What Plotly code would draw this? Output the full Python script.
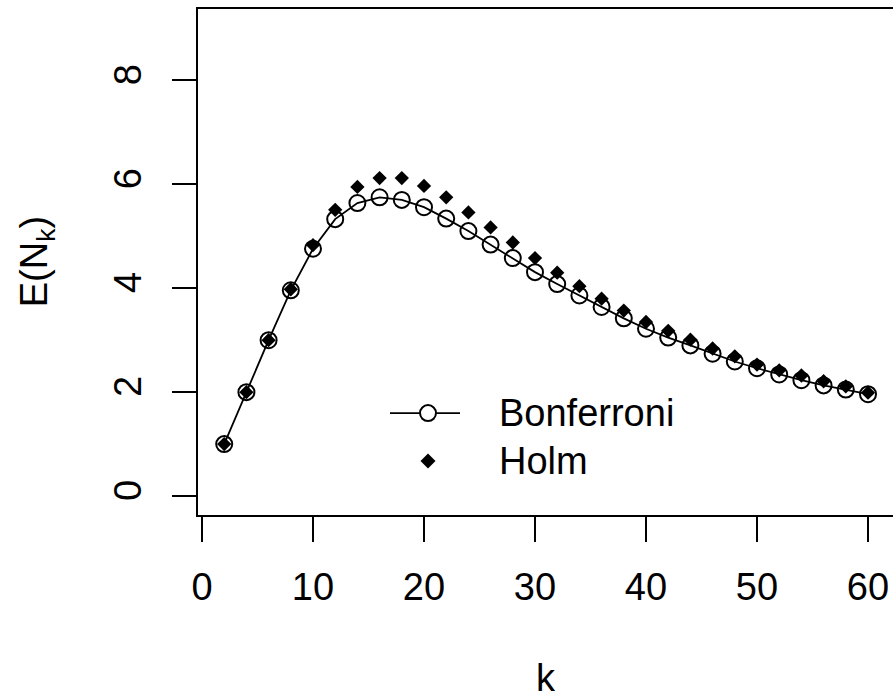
import plotly.graph_objects as go

k = list(range(2, 61, 2))
bonferroni = [1.00, 2.00, 3.00, 3.96, 4.76, 5.33, 5.64, 5.75, 5.70, 5.56,
              5.34, 5.10, 4.84, 4.58, 4.31, 4.08, 3.86, 3.64, 3.42, 3.22,
              3.05, 2.90, 2.74, 2.59, 2.46, 2.34, 2.23, 2.13, 2.05, 1.96]
holm = [1.00, 2.00, 3.00, 3.98, 4.83, 5.51, 5.95, 6.12, 6.12, 5.97,
        5.75, 5.46, 5.17, 4.88, 4.58, 4.30, 4.04, 3.80, 3.57, 3.35,
        3.18, 3.01, 2.84, 2.69, 2.53, 2.42, 2.32, 2.21, 2.11, 1.99]
x_ticks = [0, 10, 20, 30, 40, 50, 60]
y_ticks = [0, 2, 4, 6, 8]

FONT = "Liberation Sans, Arial, Helvetica, sans-serif"
FS = 38

fig = go.Figure()
fig.add_trace(go.Scatter(
    x=k, y=bonferroni, mode="lines+markers", name="Bonferroni",
    line=dict(color="black", width=1.8),
    marker=dict(symbol="circle-open", size=16, color="black", line=dict(width=2)),
    showlegend=False))
fig.add_trace(go.Scatter(
    x=k, y=holm, mode="markers", name="Holm",
    marker=dict(symbol="diamond", size=11, color="black", line=dict(width=0)),
    showlegend=False))

W, H = 893, 697
PL, PT, PB = 198, 8.5, 515  # plot area edges on the page
L, T, R = PL, PT, 0
B = H - PB
pw, ph = W - L - R, PB - PT

def px(xp):
    return (xp - PL) / pw

def py(yp):
    return (PB - yp) / ph

# legend glyphs
ly1, ly2 = py(413), py(461)
fig.add_shape(type="line", xref="paper", yref="paper",
              x0=px(390), x1=px(460), y0=ly1, y1=ly1,
              line=dict(color="black", width=1.8))
fig.add_shape(type="circle", xref="paper", yref="paper",
              xsizemode="pixel", ysizemode="pixel",
              xanchor=px(428), yanchor=ly1, x0=-8, x1=8, y0=-8, y1=8,
              fillcolor="white", line=dict(color="black", width=2))
fig.add_shape(type="path", xref="paper", yref="paper",
              xsizemode="pixel", ysizemode="pixel",
              xanchor=px(428), yanchor=ly2,
              path="M 0 -7.5 L 7.5 0 L 0 7.5 L -7.5 0 Z",
              fillcolor="black", line=dict(color="black", width=0))
fig.add_annotation(text="Bonferroni", xref="paper", yref="paper",
                   x=px(497), y=ly1, xanchor="left", yanchor="middle",
                   showarrow=False, font=dict(family=FONT, size=FS, color="black"))
fig.add_annotation(text="Holm", xref="paper", yref="paper",
                   x=px(497), y=ly2, xanchor="left", yanchor="middle",
                   showarrow=False, font=dict(family=FONT, size=FS, color="black"))

# axis titles
fig.add_annotation(text="k", xref="paper", yref="paper",
                   x=px(546), y=py(678), xanchor="center", yanchor="middle",
                   showarrow=False, font=dict(family=FONT, size=FS, color="black"))
fig.add_annotation(text="E(N<sub>k</sub>)", xref="paper", yref="paper",
                   x=px(37), y=py(262), xanchor="center", yanchor="middle",
                   textangle=-90, showarrow=False,
                   font=dict(family=FONT, size=FS, color="black"))

x_max_visible = -0.36 + pw / 11.1

fig.update_layout(
    width=W, height=H,
    margin=dict(l=L, r=R, t=T, b=B, pad=0),
    paper_bgcolor="white", plot_bgcolor="white",
    font=dict(family=FONT, size=FS, color="black"),
    xaxis=dict(range=[-0.36, x_max_visible], tickvals=x_ticks, ticktext=[str(v) for v in x_ticks],
               showgrid=False, zeroline=False, showline=True, linecolor="black",
               linewidth=2, mirror=True, ticks="outside", ticklen=25, tickwidth=1.8,
               tickcolor="black", ticklabelstandoff=12,
               tickfont=dict(family=FONT, size=FS, color="black")),
    yaxis=dict(range=[-0.365, 9.375], tickvals=y_ticks, ticktext=[str(v) for v in y_ticks],
               showgrid=False, zeroline=False, showline=True, linecolor="black",
               linewidth=2, mirror=False, ticks="outside", ticklen=24, tickwidth=1.8,
               tickcolor="black", tickangle=-90, ticklabelstandoff=16,
               tickfont=dict(family=FONT, size=FS, color="black")),
)

fig.write_html("out.html", config={"displayModeBar": False},
               post_script="document.body.style.margin='0';document.body.style.overflow='hidden';")
